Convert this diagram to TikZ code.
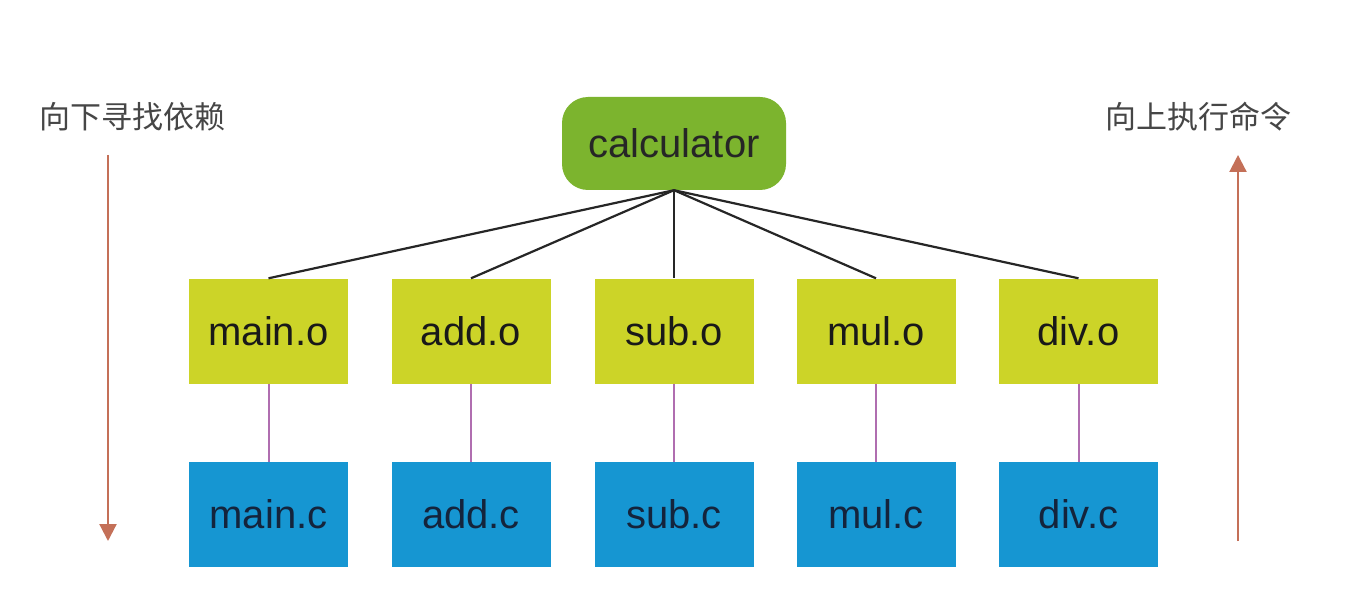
\documentclass[tikz,border=0pt]{standalone}
\usepackage{fontspec}
\setmainfont{Liberation Sans}
\newfontfamily\cjk{Noto Sans CJK SC}
\usetikzlibrary{arrows.meta}
\definecolor{calcgreen}{RGB}{124,180,46}
\definecolor{objyellow}{RGB}{204,212,40}
\definecolor{srcblue}{RGB}{22,150,210}
\definecolor{linkpurple}{RGB}{176,110,176}
\definecolor{arrowred}{RGB}{196,112,88}
\definecolor{labelgray}{RGB}{70,70,70}
\definecolor{navytext}{RGB}{20,36,60}
\tikzset{
  calcbox/.style={fill=calcgreen, rounded corners=26pt, minimum width=224pt, minimum height=93pt, inner sep=0pt, font=\fontsize{40}{46}\selectfont, text=black!85},
  objbox/.style={fill=objyellow, minimum width=159pt, minimum height=105pt, inner sep=0pt, font=\fontsize{40}{46}\selectfont, text=black!90},
  srcbox/.style={fill=srcblue, minimum width=159pt, minimum height=105pt, inner sep=0pt, font=\fontsize{40}{46}\selectfont, text=navytext},
  treeline/.style={draw=black!85, line width=2.2pt},
  linkline/.style={draw=linkpurple, line width=2pt},
  flowarrow/.style={draw=arrowred, line width=2.2pt, -{Triangle[length=17pt,width=17pt]}},
  sidelabel/.style={font=\cjk\fontsize{31}{36}\selectfont, text=labelgray, inner sep=0pt}
}
\begin{document}
\begin{tikzpicture}[x=1pt,y=-1pt]
\useasboundingbox[fill=white] (0,0) rectangle (1356,604);
\node[calcbox] (calc) at (674,143.5) {calculator};
\foreach \n/\x in {main/268.5, add/471, sub/674, mul/876, div/1078.5} {
  \node[objbox] (\n o) at (\x,331) {\n.o};
  \node[srcbox] (\n c) at (\x,514.5) {\n.c};
  \draw[linkline] (\n o.south) -- (\n c.north);
  \draw[treeline] (calc.south) -- (\n o.north);
}
\node[sidelabel] (downlbl) at (132.5,117) {向下寻找依赖};
\node[sidelabel] (uplbl) at (1198.5,117) {向上执行命令};
\coordinate (dtop) at (108,155);
\coordinate (dbot) at (108,541);
\coordinate (utop) at (1238,155);
\coordinate (ubot) at (1238,541);
\draw[flowarrow] (dtop) -- (dbot);
\draw[flowarrow] (ubot) -- (utop);
\end{tikzpicture}
\end{document}
